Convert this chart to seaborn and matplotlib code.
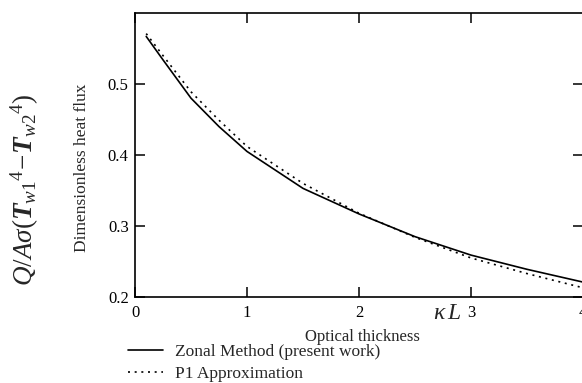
import numpy as np
import pandas as pd
import matplotlib
matplotlib.use('Agg')
from matplotlib import pyplot as plt
import seaborn as sns

# values
optical_thickness = [0.1, 0.25, 0.5, 0.75, 1.0, 1.5, 2.0, 2.5, 3.0, 3.5, 4.0]
zonal_flux = [0.567, 0.534, 0.480, 0.440, 0.405, 0.353, 0.317, 0.285, 0.259, 0.239, 0.221]
p1_flux = [0.571, 0.540, 0.489, 0.449, 0.412, 0.360, 0.318, 0.284, 0.255, 0.233, 0.213]
series_names = ['Zonal Method (present work)', 'P1 Approximation']
x_ticks = [0, 1, 2, 3, 4]
y_ticks = [0.2, 0.3, 0.4, 0.5]

df = pd.DataFrame({
    'kL': optical_thickness * 2,
    'flux': zonal_flux + p1_flux,
    'method': [series_names[0]] * len(zonal_flux) + [series_names[1]] * len(p1_flux),
})

sns.set_style('ticks')
plt.rcParams['font.family'] = ['Liberation Serif', 'DejaVu Serif']
plt.rcParams['mathtext.fontset'] = 'custom'
plt.rcParams['mathtext.rm'] = 'Liberation Serif'
plt.rcParams['mathtext.it'] = 'Liberation Serif:italic'
plt.rcParams['mathtext.bf'] = 'Liberation Serif:italic:bold'

fig = plt.figure(figsize=(5.82, 3.83), dpi=100)
ax = fig.add_axes([135 / 582, 1 - 297 / 383, 448 / 582, 284 / 383])

sns.lineplot(data=df, x='kL', y='flux', hue='method', style='method',
             palette=['black', 'black'], dashes=[(None, None), (1, 3)],
             linewidth=1.2, ax=ax, legend=False)
ax.lines[1].set_linestyle((0, (1.2, 2.8)))

ax.set_xlim(0, 4)
ax.set_ylim(0.2, 0.6)
ax.set_xticks(x_ticks)
ax.set_yticks(y_ticks)
ax.set_xticklabels([str(t) for t in x_ticks])
ax.set_yticklabels([str(t) for t in y_ticks])
ax.tick_params(direction='in', length=7, width=1.1, top=True, right=True,
               labelsize=12, colors='black')
ax.tick_params(axis='x', pad=6)
ax.tick_params(axis='y', pad=4.5)
for s in ax.spines.values():
    s.set_linewidth(1.2)
    s.set_color('black')
ax.set_xlabel('')
ax.set_ylabel('')

# axis labels
ax.text(2.91, -0.058, r'$\kappa\, L$', transform=ax.get_xaxis_transform(),
        ha='right', va='center', fontsize=17)
fig.text(362 / 582, 1 - 337 / 383, 'Optical thickness', ha='center', va='center', fontsize=12)
fig.text(82 / 582, 1 - 168 / 383, 'Dimensionless heat flux', rotation=90,
         ha='center', va='center', fontsize=12.5)
fig.text(25 / 582, 1 - 190 / 383,
         r'$Q/A\sigma(\mathbf{T}_{w1}{}^{4}\!-\!\mathbf{T}_{w2}{}^{4})$',
         rotation=90, ha='center', va='center', fontsize=19.5)

handles = ax.lines[:2]
fig.legend(handles, series_names, loc='upper left',
           bbox_to_anchor=(128 / 582, 1 - 344 / 383), frameon=False,
           fontsize=12.5, handlelength=2.0, handletextpad=0.7,
           labelspacing=0.35, borderaxespad=0, borderpad=0)

fig.savefig('out.png', dpi=100)
